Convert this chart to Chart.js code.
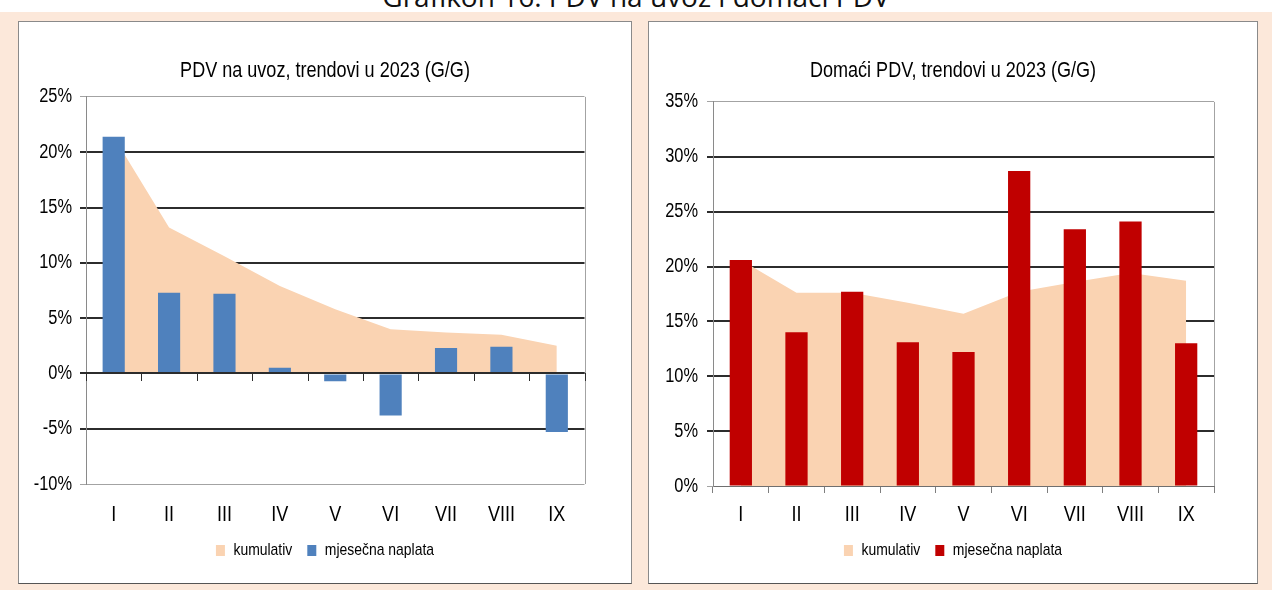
<!DOCTYPE html>
<html>
<head>
<meta charset="utf-8">
<script src="https://cdn.jsdelivr.net/npm/chart.js@4.4.1/dist/chart.umd.min.js"></script>
<style>
  html, body { margin:0; padding:0; }
  body { width:1272px; height:590px; position:relative; overflow:hidden; background:#ffffff; }
  #pageTitle { position:absolute; left:0; top:-23px; width:1272px; text-align:center;
    font-family:'Open Sans', sans-serif; font-size:28px; line-height:38px; color:#111; white-space:nowrap; }
  #band { position:absolute; left:0; top:12px; width:1272px; height:578px; background:#FCE8DA; }
  .panel { position:absolute; background:#fff; border:1px solid #8a8a8a; border-bottom-color:#555; }
  canvas { position:absolute; left:0; top:0; }
</style>
</head>
<body>
<div id="pageTitle">Grafikon 16: PDV na uvoz i domaći PDV</div>
<div id="band"></div>
<div class="panel" style="left:18px; top:21px; width:612px; height:561px;"><canvas id="c1" width="612" height="561"></canvas></div>
<div class="panel" style="left:648px; top:21px; width:608px; height:561px;"><canvas id="c2" width="608" height="561"></canvas></div>
<script>
// ---- data ----
const categories = ['I', 'II', 'III', 'IV', 'V', 'VI', 'VII', 'VIII', 'IX'];
const importCumulative = [21.4, 13.2, 10.6, 7.9, 5.8, 4.0, 3.7, 3.5, 2.5];
const importMonthly = [21.4, 7.3, 7.2, 0.5, -0.7, -3.8, 2.3, 2.4, -5.3];
const domesticCumulative = [20.6, 17.6, 17.6, 16.7, 15.7, 17.7, 18.6, 19.4, 18.7];
const domesticMonthly = [20.6, 14.0, 17.7, 13.1, 12.2, 28.7, 23.4, 24.1, 13.0];
const importTicks = { min: -10, max: 25, step: 5 };
const domesticTicks = { min: 0, max: 35, step: 5 };
const seriesNames = ['kumulativ', 'mjesečna naplata'];
const titles = ['PDV na uvoz, trendovi u 2023 (G/G)', 'Domaći PDV, trendovi u 2023 (G/G)'];

// ---- styles ----
const FONT = "'Liberation Sans', Arial, sans-serif";
const PEACH = '#FAD3B2';
const BLUE = '#4F81BD';
const RED = '#C00000';
const TEXT = '#000000';
const GRID_DARK = '#2c2c2c';
const GRID_LIGHT = '#a3a3a3';
const NARROW_SCALE = 0.82; // condensed lettering like the original narrow typeface

// draw canvas text horizontally condensed (still real text via fillText)
function condenseText(canvas) {
  const ctx = canvas.getContext('2d');
  const fill = ctx.fillText.bind(ctx);
  const stroke = ctx.strokeText.bind(ctx);
  const measure = ctx.measureText.bind(ctx);
  const wrap = (fn) => function (text, x, y, maxWidth) {
    ctx.save();
    ctx.translate(x, y);
    ctx.scale(NARROW_SCALE, 1);
    if (maxWidth === undefined || maxWidth === null) fn(text, 0, 0);
    else fn(text, 0, 0, maxWidth / NARROW_SCALE);
    ctx.restore();
  };
  ctx.fillText = wrap(fill);
  ctx.strokeText = wrap(stroke);
  ctx.measureText = function (text) {
    const m = measure(text);
    return {
      width: m.width * NARROW_SCALE,
      actualBoundingBoxAscent: m.actualBoundingBoxAscent,
      actualBoundingBoxDescent: m.actualBoundingBoxDescent,
      actualBoundingBoxLeft: m.actualBoundingBoxLeft * NARROW_SCALE,
      actualBoundingBoxRight: m.actualBoundingBoxRight * NARROW_SCALE,
      fontBoundingBoxAscent: m.fontBoundingBoxAscent,
      fontBoundingBoxDescent: m.fontBoundingBoxDescent
    };
  };
  return canvas;
}

const framePlugin = {
  id: 'frame',
  afterDatasetsDraw(chart, args, opts) {
    const { ctx, chartArea, scales: { x, y } } = chart;
    ctx.save();
    ctx.strokeStyle = GRID_LIGHT;
    ctx.lineWidth = 1;
    ctx.beginPath();
    const rx = Math.round(chartArea.right) + 0.5;
    ctx.moveTo(rx, chartArea.top);
    ctx.lineTo(rx, chartArea.bottom);
    ctx.stroke();
    if (opts.zeroTicks) {
      const y0 = Math.round(y.getPixelForValue(0));
      ctx.strokeStyle = GRID_DARK;
      ctx.lineWidth = 2;
      ctx.beginPath();
      ctx.moveTo(chartArea.left, y0);
      ctx.lineTo(chartArea.right, y0);
      ctx.stroke();
      ctx.lineWidth = 1;
      ctx.beginPath();
      for (let i = 0; i <= categories.length; i++) {
        const px = Math.round(x.getPixelForValue(i - 0.5)) + 0.5;
        ctx.moveTo(px, y0);
        ctx.lineTo(px, y0 + 8);
      }
      ctx.stroke();
    }
    ctx.restore();
  }
};

function makeChart(id, cum, monthly, barColor, tk, title, cfg) {
  return new Chart(condenseText(document.getElementById(id)), {
    data: {
      labels: categories,
      datasets: [
        { type: 'line', label: seriesNames[0], data: cum, backgroundColor: PEACH,
          borderColor: 'transparent', borderWidth: 0, fill: 'origin', pointRadius: 0,
          tension: 0, order: 1 },
        { type: 'bar', label: seriesNames[1], data: monthly, backgroundColor: barColor,
          barPercentage: 0.4, categoryPercentage: 1, order: 0 }
      ]
    },
    options: {
      responsive: false,
      animation: false,
      layout: { padding: { left: 0, right: 0, top: 0, bottom: 14 } },
      plugins: {
        title: { display: true, text: title, color: TEXT,
          font: { family: FONT, size: 22, weight: 'normal', lineHeight: 1.2 },
          padding: { top: 35.5, bottom: cfg.titleBottom } },
        legend: { position: 'bottom',
          labels: { color: TEXT, font: { family: FONT, size: 17 }, boxWidth: 9, boxHeight: 11,
            padding: 15, sort: (a, b) => a.datasetIndex - b.datasetIndex } },
        tooltip: { enabled: false },
        frame: { zeroTicks: cfg.zeroTicks }
      },
      scales: {
        x: {
          grid: cfg.xGrid,
          border: cfg.xBorder,
          ticks: { color: TEXT, font: { family: FONT, size: 22, lineHeight: 1.2 }, padding: cfg.xPad,
            maxRotation: 0, autoSkip: false },
          afterFit: s => { s.height = cfg.xHeight; }
        },
        y: {
          position: 'left',
          min: tk.min, max: tk.max,
          ticks: { stepSize: tk.step, color: TEXT, font: { family: FONT, size: 20 },
            padding: cfg.yPad, callback: v => v + '%' },
          grid: {
            color: c => (c.tick && (c.tick.value === tk.max || c.tick.value === tk.min)) ? GRID_LIGHT : GRID_DARK,
            lineWidth: c => (c.tick && (c.tick.value === tk.max || c.tick.value === tk.min)) ? 1 : 2,
            tickLength: 6
          },
          border: { color: '#8a8a8a', width: 1 },
          afterFit: s => { s.width = cfg.yWidth; }
        },
        yRight: {
          position: 'right',
          display: true,
          grid: { display: false, drawTicks: false },
          border: { display: false },
          ticks: { display: false },
          afterFit: s => { s.width = cfg.rightWidth; }
        }
      }
    },
    plugins: [framePlugin]
  });
}

makeChart('c1', importCumulative, importMonthly, BLUE, importTicks, titles[0], {
  titleBottom: 13, zeroTicks: true,
  xGrid: { display: false, drawTicks: false }, xBorder: { display: false },
  xPad: 18, xHeight: 43, yPad: 8, yWidth: 67, rightWidth: 46.5
});
makeChart('c2', domesticCumulative, domesticMonthly, RED, domesticTicks, titles[1], {
  titleBottom: 18, zeroTicks: false,
  xGrid: { display: true, drawOnChartArea: false, drawTicks: true, tickLength: 7, color: '#7f7f7f', offset: true },
  xBorder: { display: true, color: '#6f6f6f', width: 1 },
  xPad: 8.3, xHeight: 41, yPad: 9, yWidth: 64, rightWidth: 43
});
</script>
</body>
</html>
